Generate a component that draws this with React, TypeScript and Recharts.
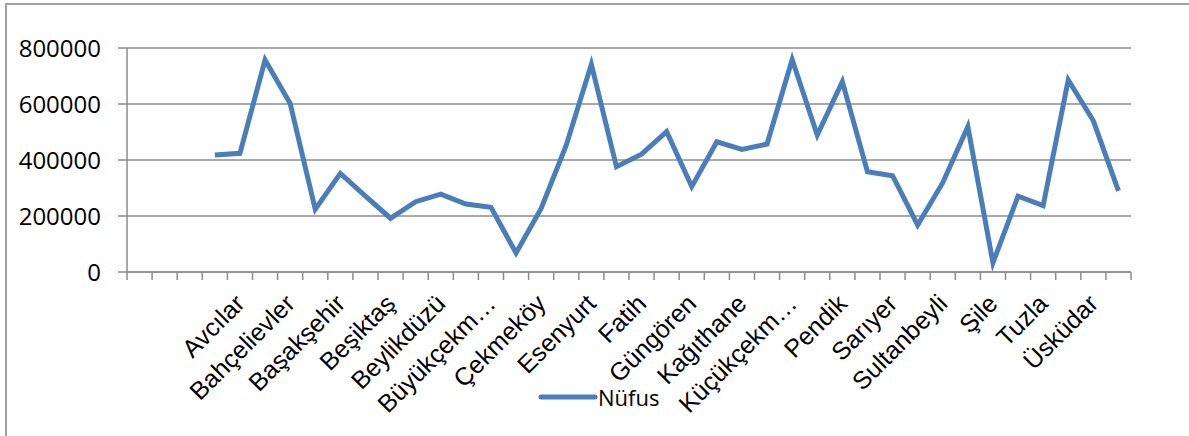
import React from "react";
import { LineChart, Line, XAxis, YAxis, CartesianGrid, Legend } from "recharts";

// categories (first three rows of the sheet are blank)
const districts = [
  "", "", "", "Ataşehir", "Avcılar", "Bağcılar", "Bahçelievler", "Bakırköy",
  "Başakşehir", "Bayrampaşa", "Beşiktaş", "Beykoz", "Beylikdüzü", "Beyoğlu",
  "Büyükçekmece", "Çatalca", "Çekmeköy", "Esenler", "Esenyurt", "Eyüp", "Fatih",
  "Gaziosmanpaşa", "Güngören", "Kadıköy", "Kağıthane", "Kartal", "Küçükçekmece",
  "Maltepe", "Pendik", "Sancaktepe", "Sarıyer", "Silivri", "Sultanbeyli",
  "Sultangazi", "Şile", "Şişli", "Tuzla", "Ümraniye", "Üsküdar", "Zeytinburnu",
];

const population: (number | null)[] = [
  null, null, null, 418000, 424000, 757000, 602000, 224000,
  352000, 271000, 192000, 251000, 278000, 243000,
  231000, 68000, 227000, 453000, 742000, 376000, 421000,
  501000, 305000, 465000, 438000, 457000, 759000,
  489000, 680000, 358000, 344000, 168000, 319000,
  519000, 33000, 271000, 237000, 686000, 540000, 290000,
];

const yTicks = [0, 200000, 400000, 600000, 800000];

const data = districts.map((name, i) => ({ name, nufus: population[i] }));

const W = 1189;
const H = 436;
const MARGIN = { top: 48, right: 58, bottom: 0, left: 0 };
const Y_AXIS_W = 127;
const X_AXIS_H = 164;
const BAND = (W - MARGIN.left - MARGIN.right - Y_AXIS_W) / districts.length;

const GRID = "#8c8c8c";
const BLUE = "#4a7ebb";
const LABEL_FONT = "Liberation Sans, Arial, sans-serif";
const LABEL_SIZE = 25;

let ctx: CanvasRenderingContext2D | null = null;
const measure = (s: string) => {
  if (!ctx) ctx = document.createElement("canvas").getContext("2d");
  if (!ctx) return s.length * LABEL_SIZE * 0.55;
  ctx.font = `${LABEL_SIZE}px "Liberation Sans"`;
  return ctx.measureText(s).width;
};

// excel-ish ellipsis when a label gets too long
const fitLabel = (s: string) => {
  const max = LABEL_SIZE * 6.3;
  if (measure(s) <= max) return s;
  let t = s;
  while (t.length > 1 && measure(t + "…") > max) t = t.slice(0, -1);
  return t + "…";
};

const CategoryTick = (props: any) => {
  const { x, y, payload, index } = props;
  const i = payload?.index ?? index;
  const left = x - BAND / 2;
  const px = x;
  const py = y + 27;
  return (
    <g>
      <line x1={left} y1={y} x2={left} y2={y + 8} stroke={GRID} strokeWidth={1.5} />
      {i === districts.length - 1 && (
        <line x1={x + BAND / 2} y1={y} x2={x + BAND / 2} y2={y + 8} stroke={GRID} strokeWidth={1.5} />
      )}
      {i % 2 === 0 && payload.value && (
        <text
          x={px}
          y={py}
          dy="0.35em"
          textAnchor="end"
          fontFamily={LABEL_FONT}
          fontSize={LABEL_SIZE}
          fill="#000"
          transform={`rotate(-45 ${px} ${py})`}
        >
          {fitLabel(payload.value)}
        </text>
      )}
    </g>
  );
};

const LegendContent = () => (
  <div style={{ display: "flex", alignItems: "center" }}>
    <svg width={60} height={12}>
      <line x1={3} y1={6} x2={57} y2={6} stroke={BLUE} strokeWidth={5} strokeLinecap="round" />
    </svg>
    <span style={{ fontFamily: "Open Sans", fontSize: 22, color: "#000", lineHeight: "24px" }}>
      Nüfus
    </span>
  </div>
);

export default function App() {
  return (
    <div
      style={{
        position: "fixed",
        left: 0,
        top: 0,
        width: W,
        height: H,
        overflow: "hidden",
        background: "#fff",
      }}
    >
      <div
        style={{
          position: "absolute",
          left: 5,
          top: 3,
          width: W + 100,
          height: H + 100,
          borderTop: "2px solid #a0a0a0",
          borderLeft: "2px solid #a0a0a0",
        }}
      />
      <div style={{ position: "absolute", left: 0, top: 0 }}>
        <LineChart width={W} height={H} data={data} margin={MARGIN}>
          <CartesianGrid vertical={false} stroke={GRID} strokeWidth={1.5} />
          <XAxis
            dataKey="name"
            interval={0}
            height={X_AXIS_H}
            padding={{ left: BAND / 2, right: BAND / 2 }}
            tickSize={0}
            tickMargin={0}
            tickLine={false}
            axisLine={{ stroke: GRID, strokeWidth: 1.5 }}
            tick={<CategoryTick />}
          />
          <YAxis
            width={Y_AXIS_W}
            domain={[0, 800000]}
            ticks={yTicks}
            interval={0}
            tickSize={9}
            tickMargin={17}
            axisLine={{ stroke: GRID, strokeWidth: 1.5 }}
            tickLine={{ stroke: GRID, strokeWidth: 1.5 }}
            tick={{ fill: "#000", fontSize: 24, fontFamily: "Open Sans" }}
          />
          <Legend
            layout="horizontal"
            verticalAlign="middle"
            align="center"
            wrapperStyle={{ top: 385, left: 538, width: "auto" }}
            content={<LegendContent />}
          />
          <Line
            type="linear"
            dataKey="nufus"
            name="Nüfus"
            stroke={BLUE}
            strokeWidth={5}
            dot={false}
            activeDot={false}
            isAnimationActive={false}
          />
        </LineChart>
      </div>
    </div>
  );
}
